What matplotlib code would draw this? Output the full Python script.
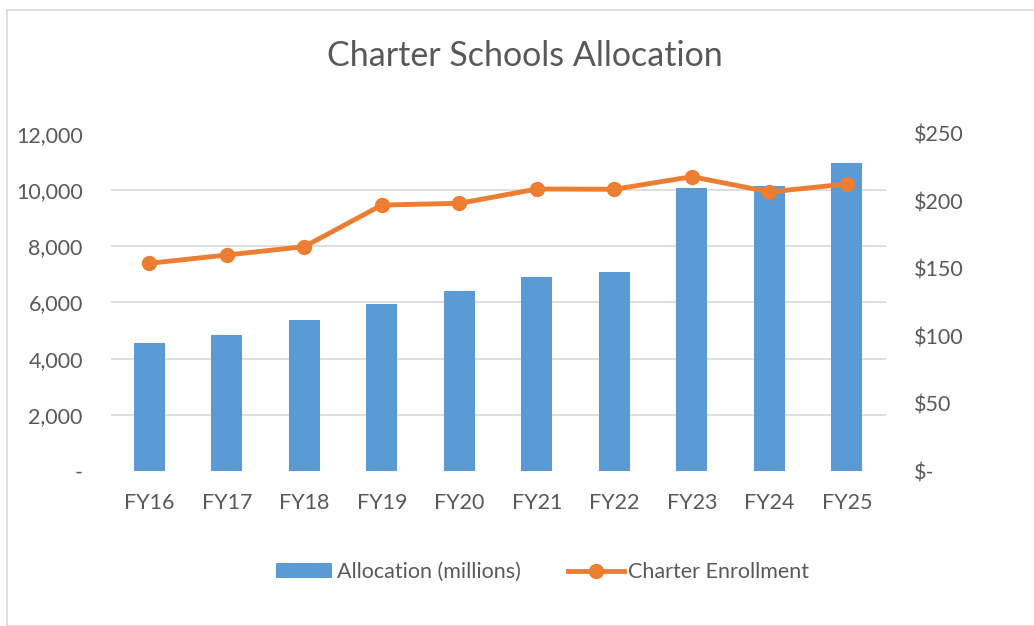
import matplotlib
matplotlib.use("Agg")
import matplotlib.pyplot as plt
from matplotlib.ticker import FuncFormatter
from matplotlib.patches import Rectangle
import numpy as np

plt.rcParams['font.family'] = ['Lato', 'DejaVu Sans']

years = ['FY16', 'FY17', 'FY18', 'FY19', 'FY20', 'FY21', 'FY22', 'FY23', 'FY24', 'FY25']
# allocation in millions of dollars (right axis)
allocation = [94.7, 100.9, 112.0, 123.9, 133.7, 143.7, 147.6, 210.2, 211.4, 228.7]
# charter enrollment (left axis)
enrollment = [7395, 7690, 7990, 9470, 9530, 10040, 10030, 10480, 9935, 10220]

grey = '#595959'
fs = 15.5
fig = plt.figure(figsize=(10.34, 6.26), dpi=100)
fig.patches.append(Rectangle((7 / 1034, 0), 1.0, 1 - 10 / 626, transform=fig.transFigure,
                             fill=False, edgecolor='#d9d9d9', linewidth=1.2))

ax = fig.add_axes([0.107, 0.2476, 0.7496, 0.5384])
ax2 = ax.twinx()
x = np.arange(len(years))

# bars on the $ axis, line on the enrollment axis drawn on top
ax2.bar(x, allocation, width=0.4, color='#5b9bd5', label='Allocation (millions)', zorder=2)
ax2.set_ylim(0, 250)
ax2.set_yticks(np.arange(0, 251, 50))
# gridlines follow the left (enrollment) ticks but sit under the bars
ax2.set_yticks(np.linspace(0, 250, 7), minor=True)
ax2.yaxis.grid(True, which='minor', color='#d9d9d9', linewidth=1.2, zorder=0)
ax2.set_axisbelow(True)
ax2.yaxis.set_major_formatter(FuncFormatter(lambda v, p: '$-' if v == 0 else '${:,.0f}'.format(v)))

ax.plot(x, enrollment, color='#ed7d31', linewidth=3.5, marker='o', markersize=10,
        label='Charter Enrollment', zorder=3)
ax.set_ylim(0, 12000)
ax.set_yticks(np.arange(0, 12001, 2000))
ax.yaxis.set_major_formatter(FuncFormatter(lambda v, p: '-' if v == 0 else '{:,.0f}'.format(v)))
ax.set_zorder(ax2.get_zorder() + 1)
ax.patch.set_visible(False)

ax.set_xlim(-0.5, 9.5)
ax.set_xticks(x)
ax.set_xticklabels(years)

for a in (ax, ax2):
    for s in a.spines.values():
        s.set_visible(False)
    a.tick_params(which='both', length=0, colors=grey, labelsize=fs)
ax.tick_params(axis='y', pad=20)
ax2.tick_params(axis='y', pad=20)
ax.tick_params(axis='x', pad=16)

fig.text(0.508, 0.911, 'Charter Schools Allocation', ha='center', va='center',
         fontsize=24.5, color=grey)

h1, l1 = ax2.get_legend_handles_labels()
h2, l2 = ax.get_legend_handles_labels()
fig.legend(h1 + h2, l1 + l2, loc='center', bbox_to_anchor=(0.525, 0.086), ncol=2,
           frameon=False, fontsize=fs, labelcolor=grey, handlelength=2.6,
           handletextpad=0.2, columnspacing=2.2)

fig.savefig('out.png', dpi=100)
